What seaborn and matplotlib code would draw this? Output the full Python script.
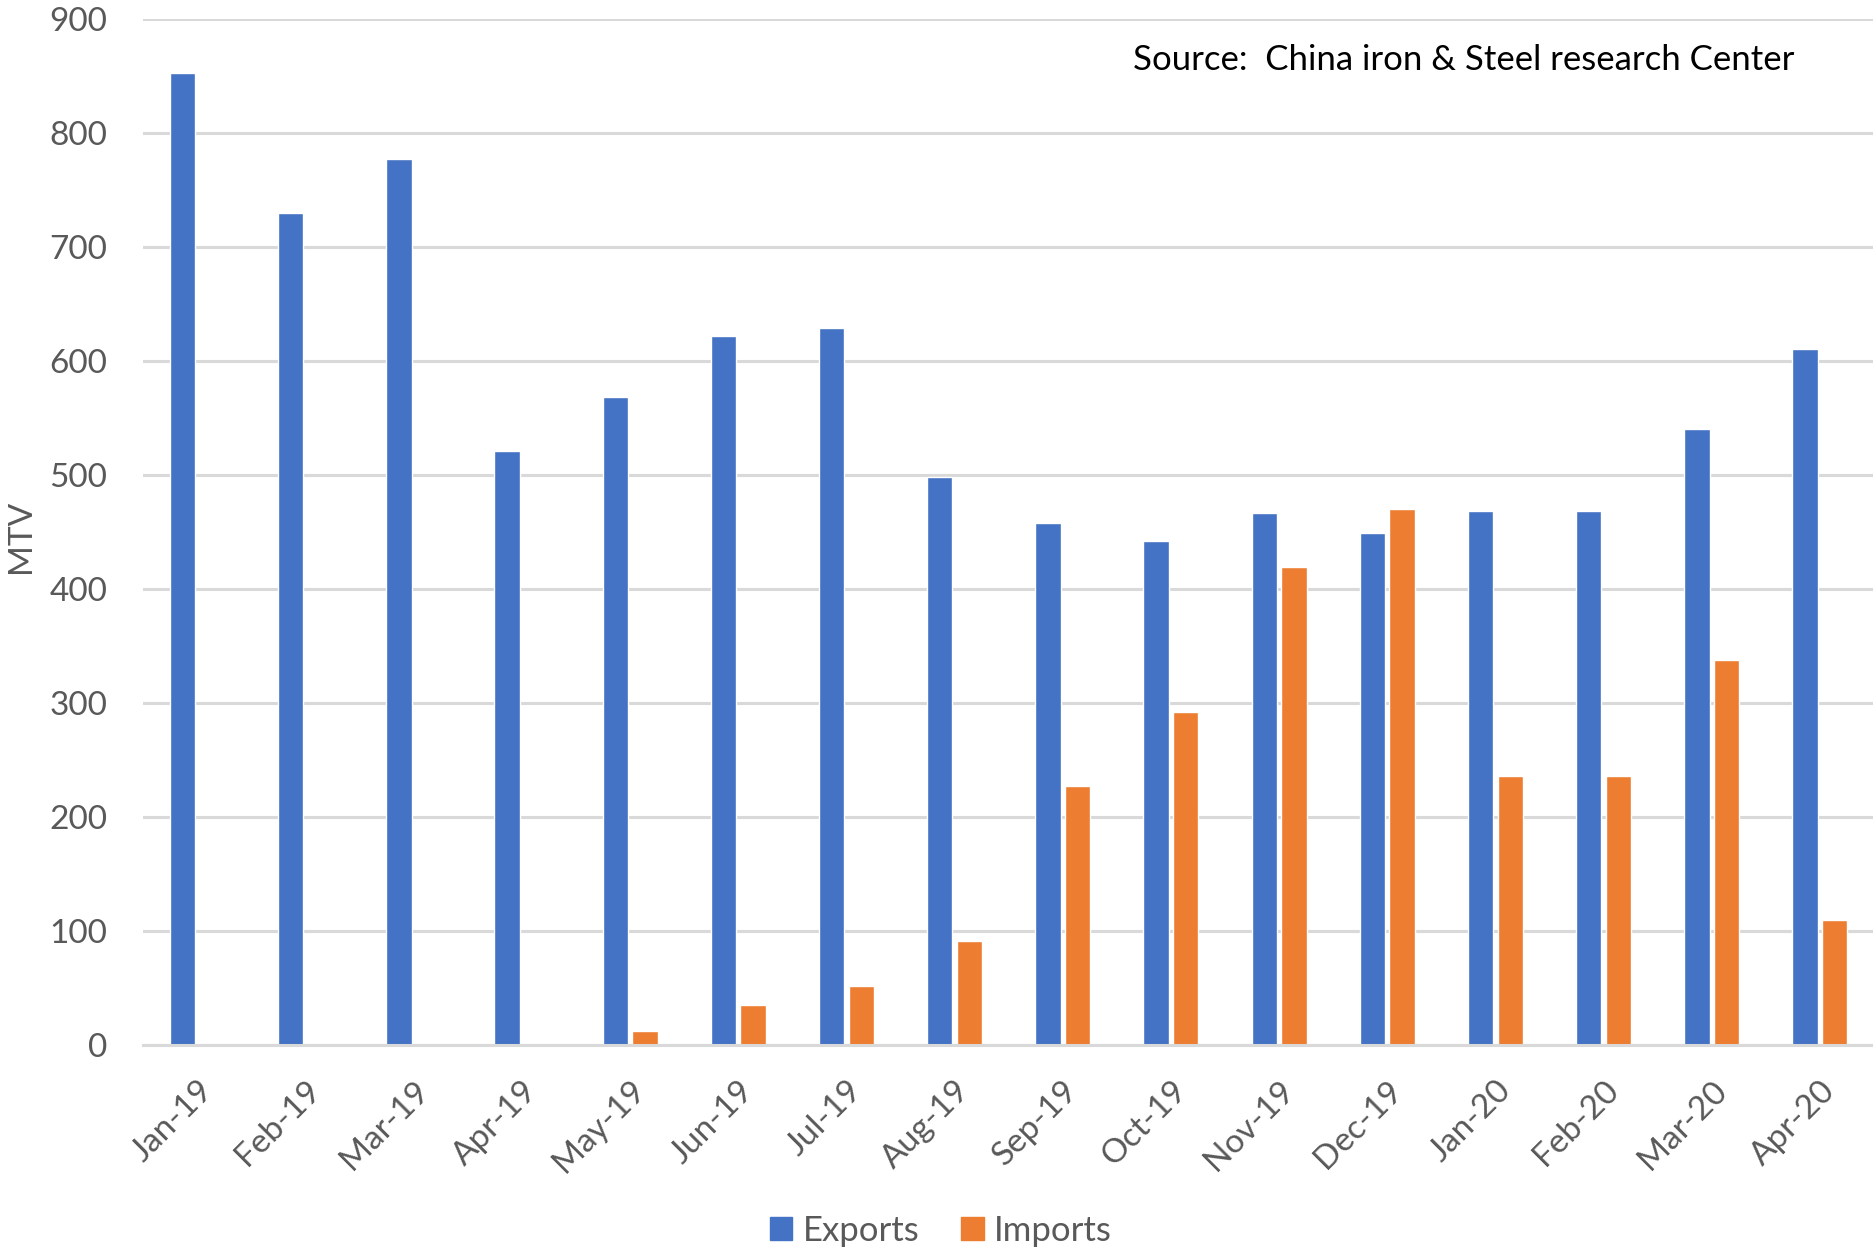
import numpy as np
import pandas as pd
import matplotlib.pyplot as plt
import seaborn as sns

months = ["Jan-19", "Feb-19", "Mar-19", "Apr-19", "May-19", "Jun-19", "Jul-19", "Aug-19",
          "Sep-19", "Oct-19", "Nov-19", "Dec-19", "Jan-20", "Feb-20", "Mar-20", "Apr-20"]
exports = [852, 730, 777, 521, 568, 622, 629, 498, 458, 442, 466, 449, 468, 468, 540, 610]
imports = [0, 0, 0, 0, 12, 35, 51, 91, 227, 292, 419, 470, 236, 236, 337, 109]

BLUE = "#4472C4"
ORANGE = "#ED7D31"
GREY = "#595959"

df = pd.DataFrame({
    "month": months * 2,
    "value": exports + imports,
    "series": ["Exports"] * len(months) + ["Imports"] * len(months),
})

sns.set_theme(style="white")
plt.rcParams["font.family"] = ["Lato", "DejaVu Sans"]

fig = plt.figure(figsize=(18.74, 12.51), dpi=100)
ax = fig.add_axes([0.0765, 0.165, 0.9235, 0.82])

sns.barplot(data=df, x="month", y="value", hue="series",
            palette=[BLUE, ORANGE], width=0.55, gap=0.15,
            saturation=1, ax=ax, legend=False)

ax.set_ylim(0, 900)
ax.set_xlim(-0.5, 15.5)
ax.set_yticks(range(0, 901, 100))
ax.yaxis.grid(True, color="#d9d9d9", lw=2.2)
ax.set_axisbelow(True)
for s in ["top", "right", "left"]:
    ax.spines[s].set_visible(False)
ax.spines["bottom"].set_color("#d9d9d9")
ax.spines["bottom"].set_linewidth(2.2)

ax.tick_params(axis="both", length=0, labelsize=24, labelcolor=GREY)
ax.tick_params(axis="y", pad=26)
ax.tick_params(axis="x", pad=22)
plt.setp(ax.get_xticklabels(), rotation=45, ha="right", rotation_mode="anchor")

ax.set_xlabel("")
ax.set_ylabel("MTV", fontsize=24, color=GREY)
ax.yaxis.set_label_coords(-0.062, 0.495)

fig.text(1133 / 1874, 1 - 60 / 1251, "Source:  China iron & Steel research Center",
         fontsize=25, color="black", va="center", ha="left")

handles = [plt.Rectangle((0, 0), 1, 1, color=BLUE), plt.Rectangle((0, 0), 1, 1, color=ORANGE)]
fig.legend(handles, ["Exports", "Imports"], loc="center", bbox_to_anchor=(0.502, 1 - 1231 / 1251),
           ncol=2, frameon=False, fontsize=25, labelcolor=GREY,
           handlelength=0.65, handleheight=0.65, handletextpad=0.3, columnspacing=1.2)

fig.savefig("out.png", dpi=100)
